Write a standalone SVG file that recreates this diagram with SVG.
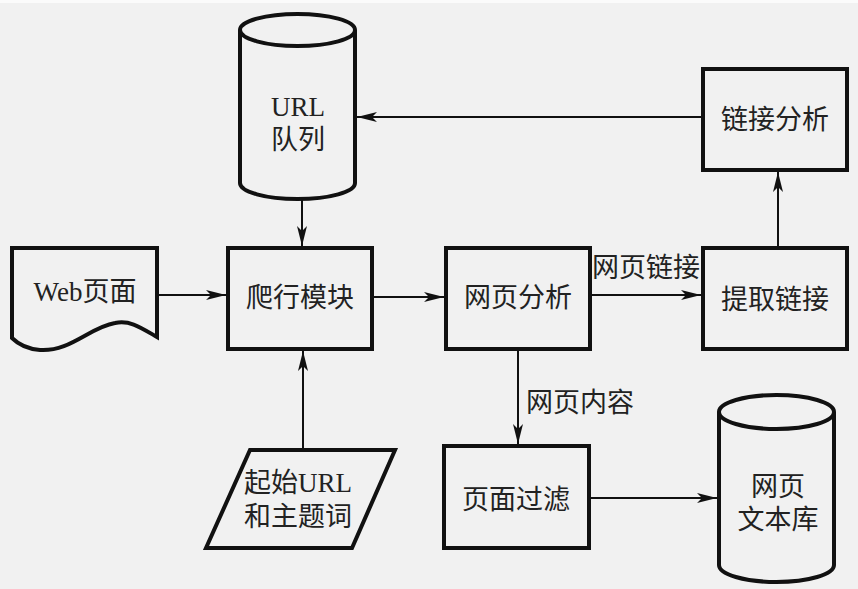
<svg xmlns="http://www.w3.org/2000/svg" width="858" height="589" viewBox="0 0 858 589">
<defs>
<style>
.s{fill:none;stroke:#111;stroke-width:4;stroke-linejoin:miter}
.c{fill:none;stroke:#111;stroke-width:2}
.t{font-family:"Liberation Serif","Noto Sans CJK SC",serif;font-size:27px;fill:#222;text-anchor:middle;dominant-baseline:central}
</style>
<marker id="ah" viewBox="0 0 20 10" refX="20" refY="5" markerWidth="20" markerHeight="10" markerUnits="userSpaceOnUse" orient="auto">
<path d="M0,0 L20,5 L0,10 L5,5 Z" fill="#111"/>
</marker>
</defs>
<rect width="858" height="589" fill="#f1f1f1"/>
<rect width="858" height="3" fill="#fbfbfb"/>
<g id="url-queue">
<path class="s" d="M240,30 L240,183 A57.5,16 0 0 0 355,183 L355,30 A57.5,16 0 0 0 240,30 A57.5,16 0 0 0 355,30"/>
<text class="t" x="298" y="107">URL</text>
<text class="t" x="298" y="140">队列</text>
</g>
<g id="link-analysis">
<rect class="s" x="703" y="69" width="144" height="101"/>
<text class="t" x="775" y="120">链接分析</text>
</g>
<g id="web-page">
<path class="s" d="M12,248 L157,248 L157,337 C140,327 130,320 115,323 C90,327 70,352 40,350 C28,349 18,344 12,338 Z"/>
<text class="t" x="85" y="292">Web页面</text>
</g>
<g id="crawler">
<rect class="s" x="228" y="248" width="144" height="101"/>
<text class="t" x="300" y="298">爬行模块</text>
</g>
<g id="page-analysis">
<rect class="s" x="446" y="248" width="144" height="101"/>
<text class="t" x="518" y="298">网页分析</text>
</g>
<g id="extract-links">
<rect class="s" x="703" y="248" width="144" height="101"/>
<text class="t" x="775" y="300">提取链接</text>
</g>
<g id="seed-input">
<path class="s" d="M250,450 L395,450 L352,548 L206,548 Z"/>
<text class="t" x="298" y="483">起始URL</text>
<text class="t" x="298" y="517">和主题词</text>
</g>
<g id="page-filter">
<rect class="s" x="444" y="446" width="145" height="102"/>
<text class="t" x="516" y="500">页面过滤</text>
</g>
<g id="text-store">
<path class="s" d="M719,412 L719,565 A57.5,17 0 0 0 834,565 L834,412 A57.5,17 0 0 0 719,412 A57.5,17 0 0 0 834,412"/>
<text class="t" x="778" y="487">网页</text>
<text class="t" x="778" y="520">文本库</text>
</g>
<g id="connectors">
<line class="c" x1="302" y1="199" x2="302" y2="246" marker-end="url(#ah)"/>
<line class="c" x1="157" y1="295" x2="226" y2="295" marker-end="url(#ah)"/>
<line class="c" x1="372" y1="297" x2="444" y2="297" marker-end="url(#ah)"/>
<line class="c" x1="590" y1="295" x2="701" y2="295" marker-end="url(#ah)"/>
<text class="t" x="646" y="268">网页链接</text>
<line class="c" x1="778" y1="248" x2="778" y2="172" marker-end="url(#ah)"/>
<line class="c" x1="703" y1="117" x2="357" y2="117" marker-end="url(#ah)"/>
<line class="c" x1="303" y1="450" x2="303" y2="351" marker-end="url(#ah)"/>
<line class="c" x1="518" y1="349" x2="518" y2="444" marker-end="url(#ah)"/>
<text class="t" x="580" y="403">网页内容</text>
<line class="c" x1="589" y1="498" x2="717" y2="498" marker-end="url(#ah)"/>
</g>
</svg>
